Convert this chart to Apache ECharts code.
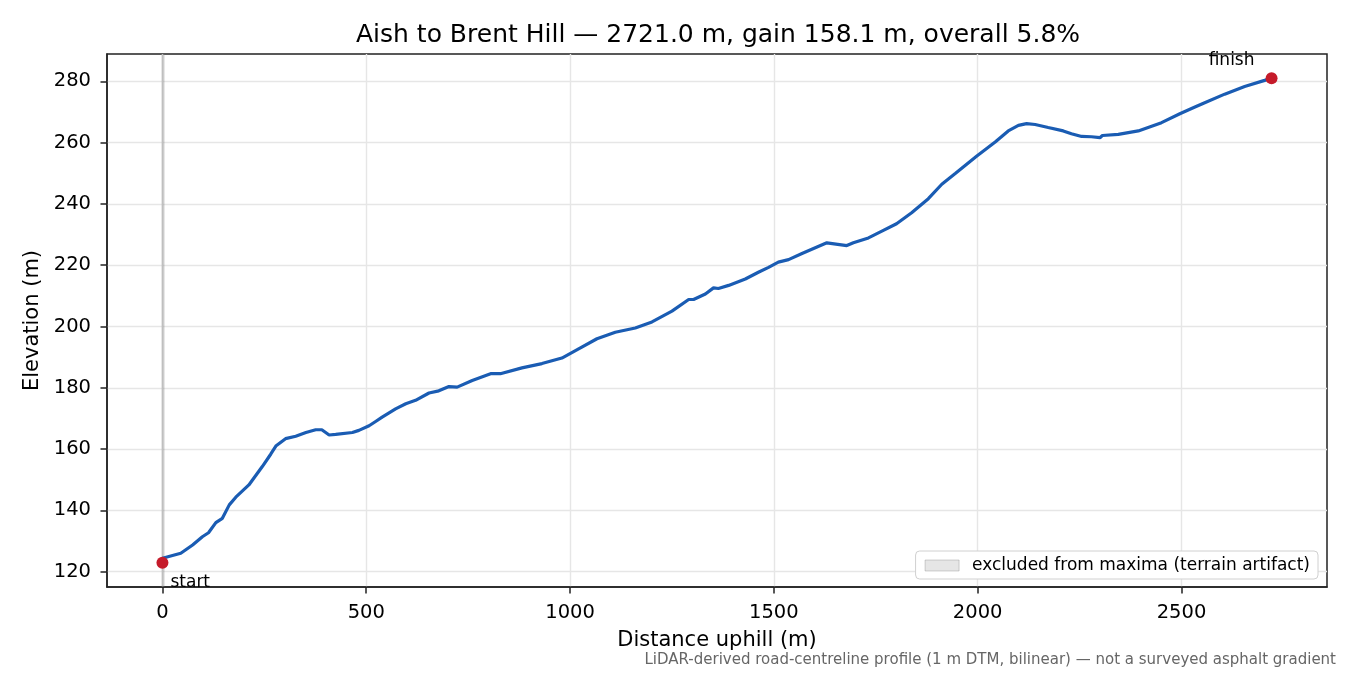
<!DOCTYPE html>
<html>
<head>
<meta charset="utf-8">
<title>Aish to Brent Hill</title>
<script src="https://cdn.jsdelivr.net/npm/echarts@6/dist/echarts.min.js"></script>
<style type="text/css">
html, body {margin: 0; padding: 0; background: #fff;}
#profile {width: 1350px; height: 675px;}
</style>
</head>
<body>
<div id="profile"></div>
<script type="text/javascript">
// distance along the road (m) and elevation (m)
var distances = [0, 45, 74, 98, 113, 131, 147, 164, 180, 212, 245, 266, 279, 302, 327, 352, 376, 391, 409, 425,
    466, 482, 507, 523, 539, 572, 597, 621, 654, 678, 703, 723, 760, 805, 829, 882, 931, 980, 1021, 1066,
    1111, 1160, 1201, 1250, 1291, 1303, 1332, 1352, 1364, 1389, 1430, 1462, 1487, 1511, 1536, 1569, 1630, 1679, 1695, 1732,
    1765, 1801, 1838, 1879, 1912, 1945, 1998, 2043, 2075, 2100, 2120, 2141, 2173, 2210, 2230, 2255, 2279, 2300, 2306, 2345,
    2394, 2451, 2496, 2533, 2557, 2606, 2655, 2704, 2721];
var elevations = [124.4, 126.0, 128.7, 131.4, 132.7, 136.0, 137.4, 141.8, 144.3, 148.3, 154.3, 158.4, 161.1, 163.4, 164.2, 165.4, 166.3, 166.3, 164.6, 164.8,
    165.4, 166.1, 167.6, 169.0, 170.4, 173.1, 174.8, 175.9, 178.3, 179.0, 180.4, 180.2, 182.4, 184.6, 184.6, 186.5, 187.9, 189.7, 192.7, 196.0,
    198.1, 199.5, 201.5, 205.0, 208.8, 208.8, 210.6, 212.6, 212.4, 213.4, 215.5, 217.7, 219.3, 221.0, 221.8, 223.8, 227.3, 226.4, 227.3, 228.9,
    231.1, 233.5, 237.1, 241.7, 246.4, 249.9, 255.6, 260.2, 263.8, 265.6, 266.2, 265.9, 264.9, 263.8, 262.9, 262.0, 261.9, 261.6, 262.3, 262.7,
    263.8, 266.5, 269.4, 271.6, 273.0, 275.8, 278.3, 280.3, 281.0];
var startPoint = [0, 122.9];
var finishPoint = [2721, 281.0];
var excludedRange = [-2, 5];
var xTicks = [0, 500, 1000, 1500, 2000, 2500];
var yTicks = [120, 140, 160, 180, 200, 220, 240, 260, 280];

var bandName = 'excluded from maxima (terrain artifact)';
var font = 'DejaVu Sans';

var profile = distances.map(function (d, i) { return [d, elevations[i]]; });

var chart = echarts.init(document.getElementById('profile'), null, {renderer: 'canvas'});
var option = {
    animation: false,
    backgroundColor: '#fff',
    title: {
        text: 'Aish to Brent Hill \u2014 2721.0 m, gain 158.1 m, overall 5.8%',
        left: 713,
        textAlign: 'center',
        top: 18,
        textStyle: {fontFamily: font, fontSize: 25, fontWeight: 'normal', color: '#000'}
    },
    grid: {
        left: 107, right: 23, top: 54, bottom: 88,
        show: true, borderColor: '#222', borderWidth: 1.5, backgroundColor: 'transparent'
    },
    legend: {
        right: 32, bottom: 96,
        orient: 'horizontal',
        backgroundColor: '#fff',
        borderColor: '#d0d0d0', borderWidth: 1, borderRadius: 4,
        padding: [6, 8, 5, 9],
        itemWidth: 34, itemHeight: 11,
        textStyle: {fontFamily: font, fontSize: 17, color: '#000', padding: [0, 0, 0, 8]},
        data: [{
            name: bandName, icon: 'rect',
            itemStyle: {color: 'rgba(128,128,128,0.2)', borderColor: 'rgba(128,128,128,0.35)', borderWidth: 1}
        }]
    },
    xAxis: {
        type: 'value',
        min: -136, max: 2857,
        splitNumber: 6,
        name: 'Distance uphill (m)',
        nameLocation: 'middle',
        nameGap: 43,
        nameTextStyle: {fontFamily: font, fontSize: 21, color: '#000'},
        axisLine: {show: true, onZero: false, lineStyle: {color: '#222', width: 1.5}},
        axisTick: {show: true, inside: false, length: 6.5, customValues: xTicks, lineStyle: {color: '#222', width: 1.5}},
        axisLabel: {
            customValues: xTicks, margin: 16, fontFamily: font, fontSize: 19.5, color: '#000',
            formatter: function (v) { return String(v); }
        },
        splitLine: {show: true, lineStyle: {color: '#e6e6e6', width: 1.4}}
    },
    yAxis: {
        type: 'value',
        min: 115.0, max: 288.9,
        splitNumber: 8,
        name: 'Elevation (m)',
        nameLocation: 'middle',
        nameGap: 62,
        nameTextStyle: {fontFamily: font, fontSize: 21, color: '#000'},
        axisLine: {show: true, onZero: false, lineStyle: {color: '#222', width: 1.5}},
        axisTick: {show: true, inside: false, length: 6.5, customValues: yTicks, lineStyle: {color: '#222', width: 1.5}},
        axisLabel: {
            customValues: yTicks, margin: 16, fontFamily: font, fontSize: 19.5, color: '#000',
            formatter: function (v) { return String(v); }
        },
        splitLine: {show: true, lineStyle: {color: '#e6e6e6', width: 1.4}}
    },
    series: [
        {
            name: bandName,
            type: 'line',
            data: [],
            itemStyle: {color: 'rgba(128,128,128,0.2)'},
            markArea: {
                silent: true,
                itemStyle: {color: 'rgba(128,128,128,0.38)'},
                data: [[{xAxis: excludedRange[0]}, {xAxis: excludedRange[1]}]]
            }
        },
        {
            name: 'profile',
            type: 'line',
            data: profile,
            showSymbol: false,
            z: 3,
            lineStyle: {color: '#1a5cb3', width: 3.2},
            itemStyle: {color: '#1a5cb3'}
        },
        {
            name: 'start',
            type: 'scatter',
            data: [startPoint],
            symbolSize: 12,
            z: 4,
            itemStyle: {color: '#c51b2a', opacity: 1},
            label: {
                show: true, formatter: 'start', position: 'right', distance: 2, offset: [0, 19.5],
                fontFamily: font, fontSize: 17, color: '#000'
            }
        },
        {
            name: 'finish',
            type: 'scatter',
            data: [finishPoint],
            symbolSize: 12,
            z: 4,
            itemStyle: {color: '#c51b2a', opacity: 1},
            label: {
                show: true, formatter: 'finish', position: 'top', distance: 3, offset: [-40, 0],
                fontFamily: font, fontSize: 17, color: '#000'
            }
        }
    ],
    graphic: [{
        type: 'text',
        right: 14,
        top: 653,
        style: {
            text: 'LiDAR-derived road-centreline profile (1 m DTM, bilinear) \u2014 not a surveyed asphalt gradient',
            font: '15px "DejaVu Sans"',
            fill: '#666'
        }
    }]
};
chart.setOption(option);
</script>
</body>
</html>
